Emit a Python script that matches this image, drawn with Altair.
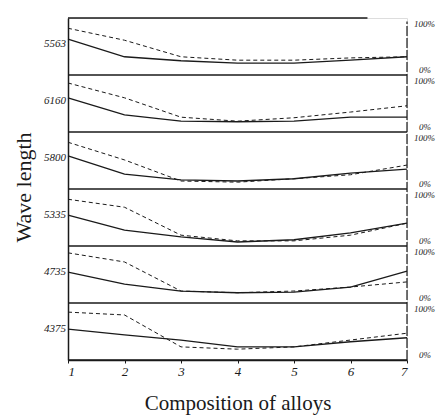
import altair as alt
import pandas as pd

# --- data ---
bands = ["5563", "6160", "5800", "5335", "4735", "4375"]
alloys = [1, 2, 3, 4, 5, 6, 7]
solid = [
    [63, 32, 25, 21, 21, 26, 32],
    [60, 30, 19, 18, 19, 26, 26],
    [58, 26, 16, 14, 18, 28, 35],
    [54, 28, 16, 7, 11, 23, 40],
    [54, 33, 21, 18, 19, 28, 56],
    [54, 44, 35, 23, 23, 32, 39],
]
dashed = [
    [82, 61, 32, 26, 26, 30, 32],
    [86, 60, 26, 19, 25, 35, 46],
    [82, 51, 14, 12, 18, 25, 42],
    [82, 68, 19, 9, 9, 19, 40],
    [88, 72, 21, 18, 21, 28, 37],
    [84, 79, 23, 19, 23, 35, 47],
]
label_pct = 55
boundaries = [0, 100, 200, 300, 400, 500, 600]
boundary_end = [7, 7, 7, 7, 7, 7, 6.3]
zero_marks = [500, 400, 300, 200, 100, 0]
full_marks = [600, 500, 400, 300, 200, 100]

rows = []
for i, b in enumerate(bands):
    off = (len(bands) - 1 - i) * 100
    for j, a in enumerate(alloys):
        rows.append({"band": b, "x": a, "y": off + solid[i][j], "kind": "solid"})
        rows.append({"band": b, "x": a, "y": off + dashed[i][j], "kind": "dashed"})
df = pd.DataFrame(rows)

lab_df = pd.DataFrame({
    "band": bands,
    "x": [1] * len(bands),
    "y": [(len(bands) - 1 - i) * 100 + label_pct for i in range(len(bands))],
})
rule_df = pd.DataFrame({"y": boundaries, "x": [1] * len(boundaries), "x2": boundary_end})
zero_df = pd.DataFrame({"y": zero_marks, "t": ["0%"] * len(zero_marks)})
full_df = pd.DataFrame({"y": full_marks, "t": ["100%"] * len(full_marks)})

ink = "#1a1a1a"
xs = alt.Scale(domain=[1, 7], nice=False, zero=False)
ys = alt.Scale(domain=[0, 600], nice=False, zero=False)

xaxis = alt.Axis(values=alloys, format="d", title="Composition of alloys",
                 labelFont="Liberation Serif", labelFontStyle="italic", labelFontSize=13,
                 labelColor=ink, tickSize=3, tickColor=ink, domainColor=ink, domainWidth=1.5,
                 grid=False, titleFont="Liberation Serif", titleFontWeight="normal",
                 titleFontSize=21, titleColor=ink, titlePadding=14, labelPadding=2)
yaxis = alt.Axis(labels=False, ticks=False, grid=False, title="Wave length",
                 domainColor=ink, domainWidth=1.5,
                 titleFont="Liberation Serif", titleFontWeight="normal", titleFontSize=22,
                 titleColor=ink, titleX=-45, titleY=169, titleAngle=-90,
                 titleAlign="center", titleBaseline="middle")

base = alt.Chart(df)
solid_l = base.transform_filter(alt.datum.kind == "solid").mark_line(
    color=ink, strokeWidth=1.3).encode(
    x=alt.X("x:Q", scale=xs, axis=xaxis),
    y=alt.Y("y:Q", scale=ys, axis=yaxis),
    detail="band:N")
dashed_l = base.transform_filter(alt.datum.kind == "dashed").mark_line(
    color=ink, strokeWidth=1, strokeDash=[4, 3]).encode(
    x=alt.X("x:Q", scale=xs), y=alt.Y("y:Q", scale=ys), detail="band:N")

rules = alt.Chart(rule_df).mark_rule(color=ink, strokeWidth=1.4).encode(
    x=alt.X("x:Q", scale=xs), x2="x2:Q", y=alt.Y("y:Q", scale=ys))

right_line = alt.Chart(pd.DataFrame({"x": [7], "y": [0], "y2": [594]})).mark_rule(
    color=ink, strokeWidth=1.2, strokeDash=[10, 2]).encode(
    x=alt.X("x:Q", scale=xs), y=alt.Y("y:Q", scale=ys), y2="y2:Q")

left_labels = alt.Chart(lab_df).mark_text(
    align="right", baseline="middle", dx=-2, font="Liberation Serif",
    fontStyle="italic", fontSize=11, color=ink).encode(
    x=alt.X("x:Q", scale=xs), y=alt.Y("y:Q", scale=ys), text="band:N")

zero_labels = alt.Chart(zero_df).mark_text(
    align="left", baseline="middle", dx=12, dy=-5, font="Liberation Serif",
    fontStyle="italic", fontSize=9, color=ink).encode(
    x=alt.value(339), y=alt.Y("y:Q", scale=ys), text="t:N")
full_labels = alt.Chart(full_df).mark_text(
    align="left", baseline="middle", dx=7, dy=6, font="Liberation Serif",
    fontStyle="italic", fontSize=9, color=ink).encode(
    x=alt.value(339), y=alt.Y("y:Q", scale=ys), text="t:N")

chart = alt.layer(rules, right_line, dashed_l, solid_l, left_labels,
                  zero_labels, full_labels).properties(
    width=339, height=342,
    autosize=alt.AutoSizeParams(type="none"),
    padding={"left": 68, "top": 18, "right": 30, "bottom": 60},
).configure_view(stroke=None).configure(background="white")

chart.save("out.html", embed_options={"renderer": "svg", "actions": False})
